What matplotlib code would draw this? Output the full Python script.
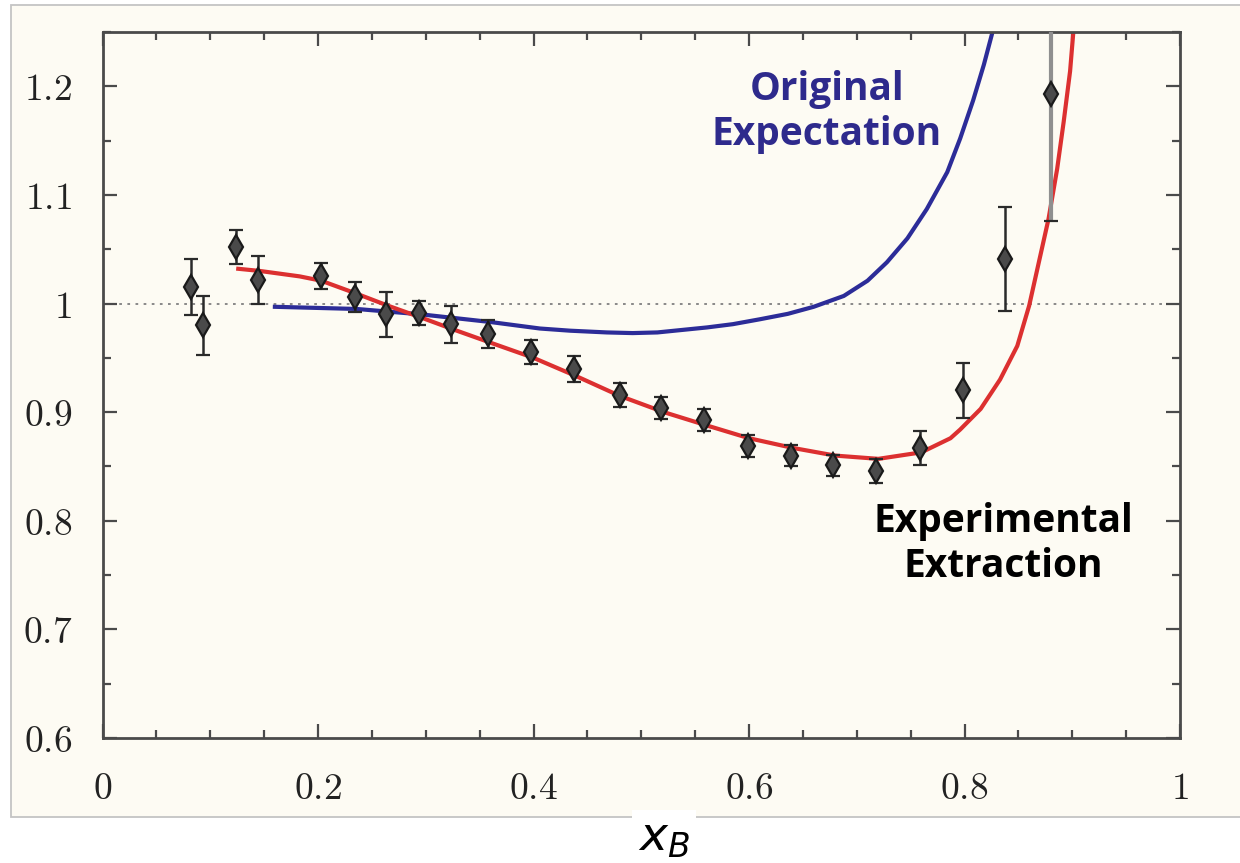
import matplotlib
matplotlib.use("Agg")
import matplotlib.pyplot as plt
from matplotlib.ticker import MultipleLocator, FuncFormatter
from matplotlib.patches import Rectangle

# ---------------- data ----------------
data_x = [0.082, 0.093, 0.124, 0.144, 0.203, 0.234, 0.263, 0.294, 0.323, 0.358,
          0.398, 0.438, 0.480, 0.518, 0.558, 0.599, 0.639, 0.678, 0.718, 0.759,
          0.799, 0.838, 0.880]
data_y = [1.015, 0.980, 1.052, 1.022, 1.025, 1.006, 0.990, 0.991, 0.981, 0.972,
          0.955, 0.940, 0.916, 0.904, 0.893, 0.869, 0.860, 0.851, 0.846, 0.867,
          0.920, 1.041, 1.193]
data_err = [0.026, 0.027, 0.016, 0.022, 0.012, 0.014, 0.021, 0.011, 0.017, 0.013,
            0.011, 0.012, 0.011, 0.010, 0.010, 0.010, 0.010, 0.010, 0.011, 0.016,
            0.025, 0.048, 0.117]

red_x = [0.126, 0.146, 0.183, 0.203, 0.236, 0.265, 0.296, 0.326, 0.360, 0.400,
         0.440, 0.480, 0.521, 0.560, 0.600, 0.641, 0.680, 0.720, 0.760, 0.787,
         0.796, 0.815, 0.833, 0.849, 0.860, 0.869, 0.878, 0.886, 0.892, 0.898,
         0.901, 0.904]
red_y = [1.032, 1.030, 1.025, 1.021, 1.009, 0.998, 0.987, 0.976, 0.964, 0.950,
         0.933, 0.915, 0.900, 0.888, 0.876, 0.867, 0.860, 0.857, 0.863, 0.876,
         0.884, 0.903, 0.930, 0.961, 0.998, 1.038, 1.078, 1.124, 1.167, 1.214,
         1.250, 1.275]

blue_x = [0.160, 0.236, 0.296, 0.360, 0.406, 0.434, 0.468, 0.492, 0.515, 0.561,
          0.585, 0.610, 0.636, 0.660, 0.688, 0.710, 0.728, 0.747, 0.765, 0.784,
          0.796, 0.808, 0.818, 0.826, 0.831]
blue_y = [0.997, 0.995, 0.990, 0.983, 0.977, 0.975, 0.9734, 0.9728, 0.9734, 0.978,
          0.981, 0.9855, 0.9905, 0.997, 1.007, 1.021, 1.038, 1.060, 1.087, 1.121,
          1.152, 1.187, 1.220, 1.250, 1.270]

x_ticks = [0.0, 0.2, 0.4, 0.6, 0.8, 1.0]
y_ticks = [0.6, 0.7, 0.8, 0.9, 1.0, 1.1, 1.2]

label_blue = "Original\nExpectation"
label_red = "Experimental\nExtraction"
x_label = r"$\mathit{x}_{\mathit{B}}$"

# ---------------- figure ----------------
plt.rcParams["mathtext.fontset"] = "cm"
W, H = 1240, 863
fig = plt.figure(figsize=(W / 100, H / 100), dpi=100)
fig.patch.set_facecolor("white")
cream = "#fdfbf3"

frame = Rectangle((11 / W, (H - 817) / H), (W - 11) / W + 0.02, (817 - 5) / H,
                  transform=fig.transFigure, facecolor=cream,
                  edgecolor="#c4c4c4", lw=1.3, zorder=-5)
fig.patches.append(frame)

ax = fig.add_axes([102.5 / W, (H - 738) / H, (1180 - 102.5) / W, (738 - 32) / H])
ax.set_facecolor(cream)
ax.set_xlim(0, 1)
ax.set_ylim(0.6, 1.25)

spine_col = "#4a4a4a"
for s in ax.spines.values():
    s.set_color(spine_col)
    s.set_linewidth(2.0)

ax.set_xticks(x_ticks)
ax.set_yticks(y_ticks)
ax.xaxis.set_minor_locator(MultipleLocator(0.05))
ax.yaxis.set_minor_locator(MultipleLocator(0.05))
fmt = FuncFormatter(lambda v, p: "$%g$" % round(v, 2))
ax.xaxis.set_major_formatter(fmt)
ax.yaxis.set_major_formatter(fmt)
ax.tick_params(which="both", direction="in", top=True, right=True,
               color=spine_col, width=1.6)
ax.tick_params(which="major", length=10)
ax.tick_params(which="minor", length=6)
ax.tick_params(axis="x", which="major", pad=24, labelsize=27, labelcolor="#222222")
ax.tick_params(axis="y", which="major", pad=22, labelsize=27, labelcolor="#222222")

# reference line
ax.axhline(1.0, color="#808080", lw=1.3, ls=(0, (1.5, 3)), zorder=1)

# curves
ax.plot(blue_x, blue_y, color="#2c2c98", lw=3.0, zorder=2)
ax.plot(red_x, red_y, color="#dc3030", lw=3.0, zorder=2)

# data points
cont = ax.errorbar(data_x, data_y, yerr=data_err, fmt="d", color="#222222",
                   ecolor="#2a2a2a", elinewidth=1.8, capsize=5, capthick=1.8,
                   markersize=12, markerfacecolor="#4a4a4a", markeredgecolor="#1a1a1a",
                   markeredgewidth=1.6, zorder=3)
bar_cols = ["#2a2a2a"] * (len(data_x) - 1) + ["#8f8f8f"]
for coll in cont[2]:
    coll.set_colors(bar_cols)
cont[2][0].set_linewidths([1.8] * (len(data_x) - 1) + [3.0])

# annotations
ax.text(0.672, 1.1457, label_blue, ha="center", va="baseline", color="#2e2a8c",
        fontsize=28, fontweight="bold", family="Open Sans", linespacing=1.2)
ax.text(0.836, 0.7484, label_red, ha="center", va="baseline", color="black",
        fontsize=28, fontweight="bold", family="Open Sans", linespacing=1.2)

fig.text(664 / W, 1 - 838 / H, x_label, ha="center", va="center", fontsize=34,
         math_fontfamily="dejavusans",
         bbox=dict(facecolor="white", edgecolor="none", pad=4))

fig.savefig("out.png", dpi=100, facecolor=fig.get_facecolor())
